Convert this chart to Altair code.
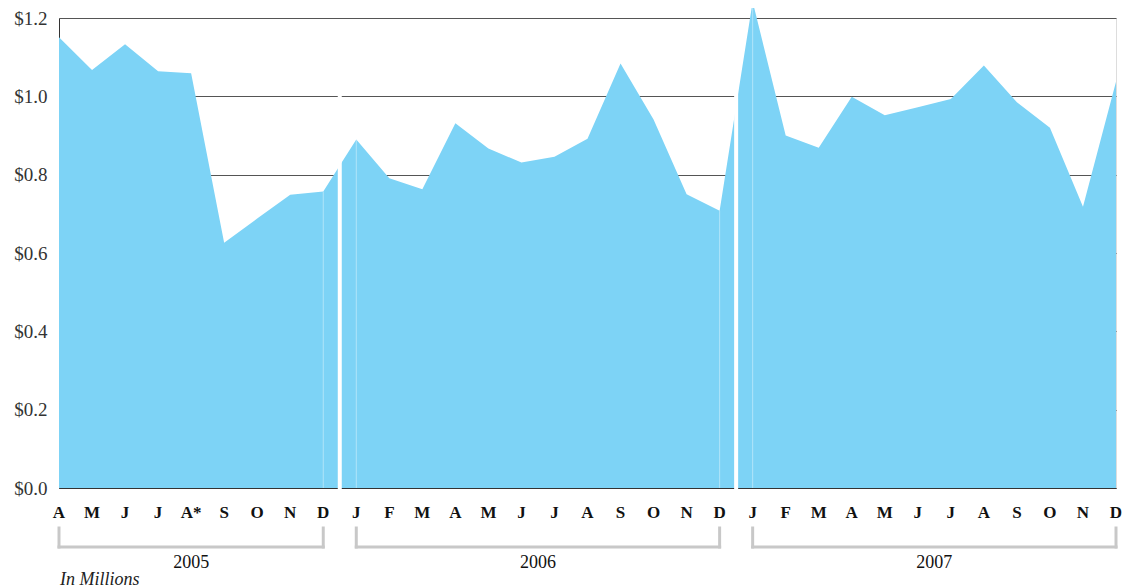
import altair as alt
import pandas as pd

# ---- data ----
months = ["A", "M", "J", "J", "A*", "S", "O", "N", "D",
          "J", "F", "M", "A", "M", "J", "J", "A", "S", "O", "N", "D",
          "J", "F", "M", "A", "M", "J", "J", "A", "S", "O", "N", "D"]
years = [2005] * 9 + [2006] * 12 + [2007] * 12
values = [1.151, 1.067, 1.133, 1.064, 1.059, 0.626, 0.688, 0.749, 0.757,
          0.890, 0.791, 0.763, 0.931, 0.867, 0.831, 0.846, 0.892, 1.084, 0.941, 0.750, 0.708,
          1.242, 0.900, 0.869, 0.999, 0.952, 0.972, 0.993, 1.079, 0.985, 0.920, 0.718, 1.037]
y_ticks = [0.0, 0.2, 0.4, 0.6, 0.8, 1.0, 1.2]
unit_note = "In Millions"

FONT = "Liberation Serif"
AREA = "#7dd3f6"
W, H = 1057, 470

df = pd.DataFrame({"idx": list(range(len(months))), "month": months,
                   "year": years, "value": values})

g = df.groupby("year")["idx"].agg(["min", "max"]).reset_index()
g.columns = ["year", "first", "last"]
g["mid"] = (g["first"] + g["last"]) / 2
g["label"] = g["year"].astype(str)

gaps = pd.DataFrame({"gx": [(g["last"].iloc[i - 1] + g["first"].iloc[i]) / 2
                            for i in range(1, len(g))]})
edge_idx = set(g["first"].iloc[1:]).union(set(g["last"].iloc[:-1]))
seams = df[df["idx"].isin(edge_idx)]

xscale = alt.Scale(domain=[0, len(months) - 1], nice=False, zero=False)
yscale = alt.Scale(domain=[0, 1.2], nice=False)

area = alt.Chart(df).mark_area(color=AREA, opacity=1, interpolate="linear").encode(
    x=alt.X("idx:Q", scale=xscale,
            axis=alt.Axis(values=list(range(len(months))), labels=False,
                          title=None, grid=False, ticks=False, tickSize=0,
                          domainColor="#333", domainWidth=1)),
    y=alt.Y("value:Q", scale=yscale,
            axis=alt.Axis(values=y_ticks, format="$.1f", title=None, grid=True,
                          gridColor="#555", gridWidth=1, ticks=False, tickSize=0,
                          labelFont=FONT, labelFontSize=19, labelColor="#333",
                          labelPadding=12, domainColor="#333", domainWidth=1)),
)

month_txt = alt.Chart(df).mark_text(font=FONT, fontSize=17, fontWeight="bold",
                                    color="#111", baseline="alphabetic",
                                    align="center").encode(
    x="idx:Q", y=alt.value(H + 30), text="month:N"
)

seam_rules = alt.Chart(seams).mark_rule(color="white", opacity=0.4, strokeWidth=1).encode(
    x="idx:Q", y=alt.Y("value:Q"), y2=alt.datum(0)
)

gap_rules = alt.Chart(gaps).mark_rule(color="white", strokeWidth=4).encode(
    x="gx:Q", y=alt.value(H + 1), y2=alt.value(2)
)

BR = "#c8c8c8"
br_h = alt.Chart(g).mark_rule(color=BR, strokeWidth=3, strokeCap="square").encode(
    x="first:Q", x2="last:Q", y=alt.value(529)
)
br_l = alt.Chart(g).mark_rule(color=BR, strokeWidth=3, strokeCap="square").encode(
    x="first:Q", y=alt.value(510), y2=alt.value(529)
)
br_r = alt.Chart(g).mark_rule(color=BR, strokeWidth=3, strokeCap="square").encode(
    x="last:Q", y=alt.value(510), y2=alt.value(529)
)
year_txt = alt.Chart(g).mark_text(font=FONT, fontSize=18, color="#111",
                                  baseline="alphabetic", align="center").encode(
    x="mid:Q", y=alt.value(550), text="label:N"
)
note = alt.Chart(pd.DataFrame({"t": [unit_note]})).mark_text(
    font=FONT, fontSize=18, fontStyle="italic", color="#222",
    baseline="alphabetic", align="left").encode(
    x=alt.value(1), y=alt.value(567), text="t:N"
)

chart = alt.layer(area, month_txt, seam_rules, gap_rules, br_h, br_l, br_r,
                  year_txt, note).properties(
    width=W, height=H,
    autosize=alt.AutoSizeParams(type="none"),
    padding={"left": 51, "top": 10, "right": 6, "bottom": 100},
).configure_view(stroke="#444", strokeWidth=1).configure(background="white")

chart.save("out.html", embed_options={"renderer": "svg", "actions": False})
